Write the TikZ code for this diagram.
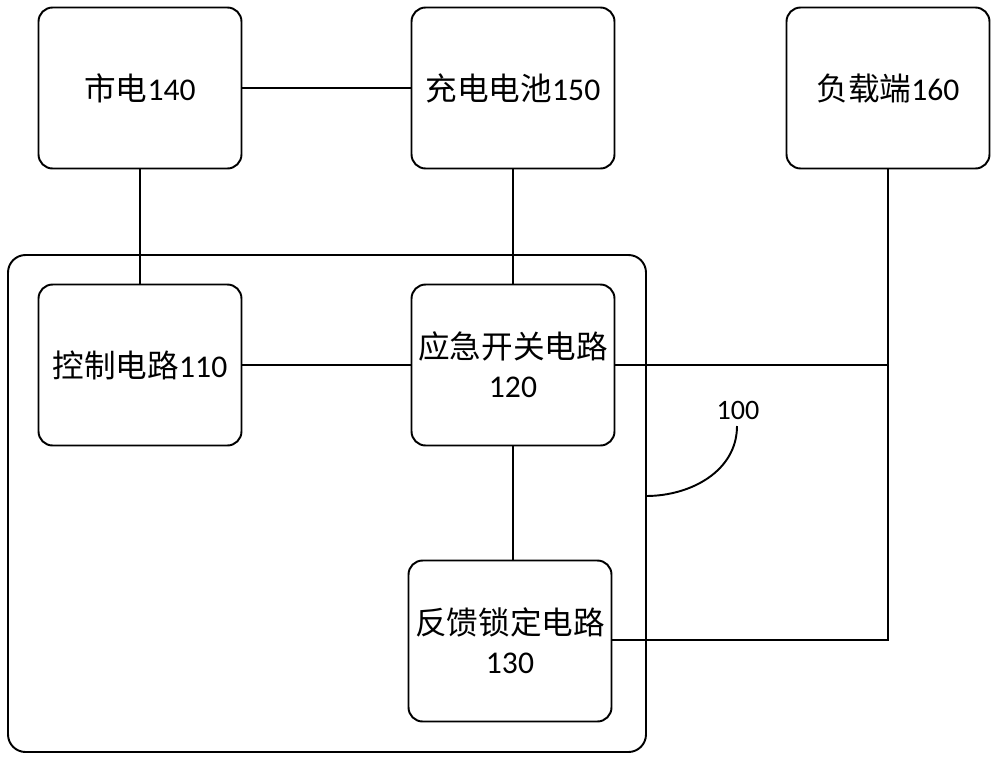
\documentclass[tikz,border=0pt]{standalone}
\usepackage{fontspec}
\setmainfont{Carlito}
\newfontfamily\cjk{Noto Sans CJK SC}
\begin{document}
\begin{tikzpicture}[x=0.02cm,y=-0.02cm,
  blok/.style={draw, line width=1.1pt, rounded corners=8pt, minimum width=4.06cm,
    minimum height=3.22cm, align=center, font=\fontsize{18}{22}\selectfont, inner sep=0pt},
  lijn/.style={line width=1.1pt}]

  \useasboundingbox (0,0) rectangle (1000,761);

  % outer frame
  \draw[lijn, rounded corners=10pt] (8,255) rectangle (646,752);

  \node[blok] (mains)   at (140,88)  {{\cjk 市电}140};
  \node[blok] (battery) at (513,88)  {{\cjk 充电电池}150};
  \node[blok] (load)    at (888,88)  {{\cjk 负载端}160};

  \node[blok] (ctrl)    at (140,365) {{\cjk 控制电路}110};
  \node[blok] (switch)  at (513,365) {{\cjk 应急开关电路}\\120};
  \node[blok] (lock)    at (510,641) {{\cjk 反馈锁定电路}\\130};

  \coordinate (tap1) at (888,365);
  \coordinate (tap2) at (888,640);

  \draw[lijn] (mains) -- (battery);
  \draw[lijn] (mains) -- (ctrl);
  \draw[lijn] (battery.south) -- (switch.north);
  \draw[lijn] (ctrl) -- (switch);
  \draw[lijn] (switch.south) -- (switch.south |- lock.north);
  \draw[lijn] (switch.east) -- (tap1);
  \draw[lijn] (load.south) -- (tap2) -- (lock.east |- tap2);

  % label 100
  \node[font=\fontsize{16}{19}\selectfont] (lbl) at (738,410) {100};
  \draw[lijn] (646,496) to[out=0,in=-90] (737,426);
\end{tikzpicture}
\end{document}
